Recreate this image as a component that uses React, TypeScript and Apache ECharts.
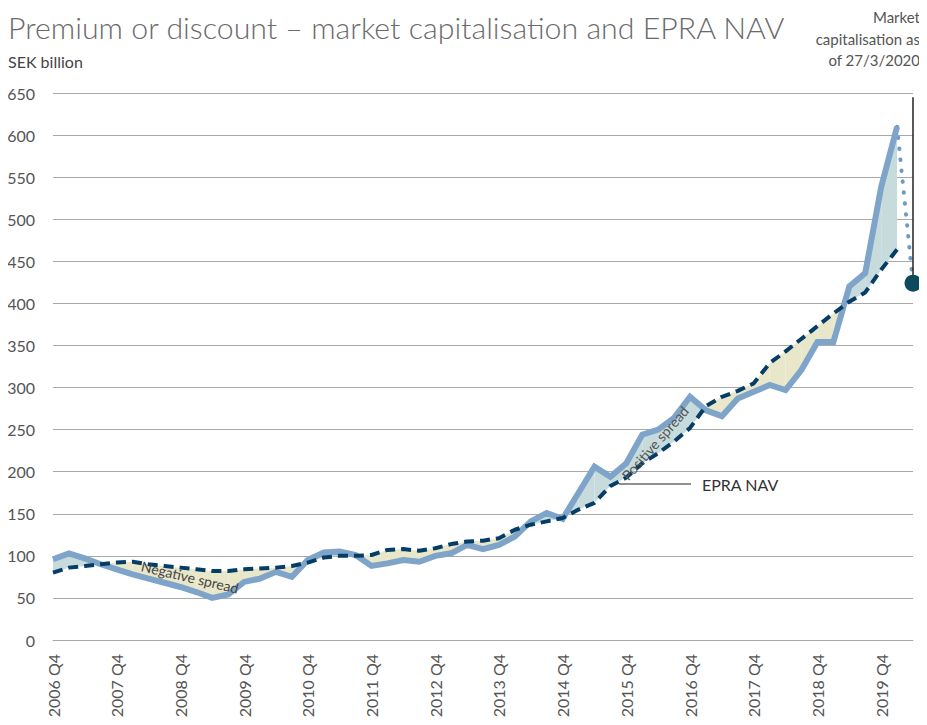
import React, { useEffect, useRef } from "react";
import * as echarts from "echarts";

const categories: string[] = [
  "2006 Q4",
  "2007 Q1", "2007 Q2", "2007 Q3", "2007 Q4",
  "2008 Q1", "2008 Q2", "2008 Q3", "2008 Q4",
  "2009 Q1", "2009 Q2", "2009 Q3", "2009 Q4",
  "2010 Q1", "2010 Q2", "2010 Q3", "2010 Q4",
  "2011 Q1", "2011 Q2", "2011 Q3", "2011 Q4",
  "2012 Q1", "2012 Q2", "2012 Q3", "2012 Q4",
  "2013 Q1", "2013 Q2", "2013 Q3", "2013 Q4",
  "2014 Q1", "2014 Q2", "2014 Q3", "2014 Q4",
  "2015 Q1", "2015 Q2", "2015 Q3", "2015 Q4",
  "2016 Q1", "2016 Q2", "2016 Q3", "2016 Q4",
  "2017 Q1", "2017 Q2", "2017 Q3", "2017 Q4",
  "2018 Q1", "2018 Q2", "2018 Q3", "2018 Q4",
  "2019 Q1", "2019 Q2", "2019 Q3", "2019 Q4",
  "2020 Q1",
  "27/3/2020",
];

const marketCap: number[] = [
  96, 103, 97, 90, 84, 78, 73, 68, 63, 57, 50, 54, 69,
  73, 81, 75, 95, 104, 105, 101, 88, 91, 95, 93, 100,
  103, 113, 108, 113, 123, 141, 151, 144, 175, 206, 194, 210,
  244, 250, 264, 289, 273, 266, 287, 295, 303, 297, 321, 354,
  354, 420, 436, 538, 610,
];

const epraNav: number[] = [
  80, 86, 88, 90, 92, 93, 90, 88, 86, 84, 82, 82, 84,
  85, 86, 88, 92, 98, 100, 100, 101, 107, 108, 106, 109,
  114, 117, 118, 121, 131, 137, 141, 145, 155, 163, 183, 193,
  210, 222, 236, 252, 278, 289, 296, 305, 329, 343, 358, 373,
  388, 402, 413, 440, 464,
];

const marketCapLatest = 424; // as of 27/3/2020
const markerTop = 645;

const yTicks = { min: 0, max: 650, interval: 50 };

const title = "Premium or discount – market capitalisation and EPRA NAV";
const unitLabel = "SEK billion";
const noteLines = ["Market", "capitalisation as", "of 27/3/2020"];

const FONT = "Lato, 'Open Sans', sans-serif";

export default function App() {
  const ref = useRef<HTMLDivElement>(null);

  useEffect(() => {
    if (!ref.current) return;
    const chart = echarts.init(ref.current, undefined, { renderer: "svg" });

    const last = categories.length - 1;
    const lastQ = marketCap.length - 1;

    const segments: number[][] = [];
    for (let i = 0; i < marketCap.length - 1; i++) {
      segments.push([i, marketCap[i], epraNav[i], marketCap[i + 1], epraNav[i + 1]]);
    }

    const POS = "#c7dbdc";
    const NEG = "#e9e7ca";

    const mcSeries: (number | null)[] = categories.map((_, i) => (i <= lastQ ? marketCap[i] : null));
    const navSeries: (number | null)[] = categories.map((_, i) => (i <= lastQ ? epraNav[i] : null));
    const dotted: (number | null)[] = categories.map((_, i) =>
      i === lastQ ? marketCap[lastQ] : i === last ? marketCapLatest : null
    );

    const noteTexts = noteLines.map((line, k) => ({
      type: "text",
      x: 920,
      y: 17 + k * 21.5,
      style: {
        text: line,
        fontSize: 15,
        fill: "#555",
        textAlign: "right",
        textVerticalAlign: "middle",
        fontFamily: FONT,
      },
    }));

    chart.setOption({
      animation: false,
      grid: { left: 53, right: 14, top: 93, bottom: 85, containLabel: false },
      xAxis: {
        type: "category",
        data: categories,
        boundaryGap: false,
        axisLine: { show: true, lineStyle: { color: "#a9a9a9", width: 1 } },
        axisTick: { show: false },
        axisLabel: {
          interval: (i: number) => i % 4 === 0 && i < categories.length - 2,
          rotate: 90,
          margin: 14,
          fontSize: 16,
          color: "#555",
          fontFamily: FONT,
          hideOverlap: false,
        },
        splitLine: { show: false },
      },
      yAxis: {
        type: "value",
        min: yTicks.min,
        max: yTicks.max,
        interval: yTicks.interval,
        axisLine: { show: false },
        axisTick: { show: false },
        axisLabel: { fontSize: 16, color: "#555", fontFamily: FONT, margin: 18 },
        splitLine: { lineStyle: { color: "#a9a9a9", width: 1 } },
      },
      series: [
        {
          type: "custom",
          name: "spread",
          data: segments,
          encode: { x: 0, y: [1, 2, 3, 4] },
          z: 1,
          silent: true,
          renderItem: (params: any, api: any) => {
            const i = api.value(0);
            const a1 = api.value(1);
            const n1 = api.value(2);
            const a2 = api.value(3);
            const n2 = api.value(4);
            const pA = api.coord([i, a1]);
            const pN = api.coord([i, n1]);
            const qA = api.coord([i + 1, a2]);
            const qN = api.coord([i + 1, n2]);
            const d1 = a1 - n1;
            const d2 = a2 - n2;
            const children: any[] = [];
            if (d1 * d2 >= 0) {
              children.push({
                type: "polygon",
                shape: { points: [pA, qA, qN, pN] },
                style: { fill: d1 + d2 >= 0 ? POS : NEG },
              });
            } else {
              const t = d1 / (d1 - d2);
              const ax = pA[0] + (qA[0] - pA[0]) * t;
              const ay = pA[1] + (qA[1] - pA[1]) * t;
              const P = [ax, ay];
              children.push({
                type: "polygon",
                shape: { points: [pA, P, pN] },
                style: { fill: d1 > 0 ? POS : NEG },
              });
              children.push({
                type: "polygon",
                shape: { points: [P, qA, qN] },
                style: { fill: d2 > 0 ? POS : NEG },
              });
            }
            return { type: "group", children };
          },
        },
        {
          type: "line",
          name: "Market capitalisation",
          data: mcSeries,
          showSymbol: false,
          symbol: "none",
          z: 3,
          lineStyle: { color: "#7ea4c9", width: 6, join: "miter" },
        },
        {
          type: "line",
          name: "EPRA NAV",
          data: navSeries,
          showSymbol: false,
          symbol: "none",
          z: 4,
          lineStyle: { color: "#053d66", width: 4, type: [10, 6] },
        },
        {
          type: "line",
          name: "latest",
          data: dotted,
          showSymbol: false,
          symbol: "none",
          z: 2,
          connectNulls: false,
          lineStyle: { color: "#6f9bc2", width: 4, type: [0.5, 10.5], cap: "round" },
        },
        {
          type: "line",
          name: "marker",
          data: [
            [last, markerTop],
            [last, marketCapLatest],
          ],
          showSymbol: false,
          symbol: "none",
          z: 2,
          lineStyle: { color: "#222", width: 1.5 },
        },
        {
          type: "scatter",
          name: "market cap 27/3/2020",
          data: [[last, marketCapLatest]],
          symbol: "circle",
          symbolSize: 17,
          z: 6,
          clip: false,
          itemStyle: { color: "#0c4a5e", opacity: 1 },
        },
      ],
      graphic: [
        {
          type: "text",
          x: 8,
          y: 27,
          style: {
            text: title,
            fontSize: 30.3,
            fill: "#6a6a6a",
            fontFamily: FONT,
            fontWeight: 300,
            textVerticalAlign: "middle",
          },
        },
        {
          type: "text",
          x: 8,
          y: 61,
          style: { text: unitLabel, fontSize: 16, fill: "#444", fontFamily: FONT, textVerticalAlign: "middle" },
        },
        ...noteTexts,
        {
          type: "text",
          x: 190,
          y: 577,
          rotation: -0.23,
          z: 100,
          style: {
            text: "Negative spread",
            fontSize: 14,
            fill: "#444",
            textAlign: "center",
            textVerticalAlign: "middle",
            fontFamily: FONT,
          },
        },
        {
          type: "text",
          x: 655,
          y: 443,
          rotation: 0.85,
          z: 100,
          style: {
            text: "Positive spread",
            fontSize: 14,
            fill: "#555",
            textAlign: "center",
            textVerticalAlign: "middle",
            fontFamily: FONT,
          },
        },
        {
          type: "line",
          z: 100,
          shape: { x1: 619, y1: 484, x2: 691, y2: 484 },
          style: { stroke: "#222", lineWidth: 1.2 },
        },
        {
          type: "text",
          x: 702,
          y: 484,
          z: 100,
          style: {
            text: "EPRA NAV",
            fontSize: 16,
            fill: "#333",
            textVerticalAlign: "middle",
            fontFamily: FONT,
          },
        },
      ],
    });

    return () => chart.dispose();
  }, []);

  return <div ref={ref} style={{ width: 927, height: 725, margin: -8 }} />;
}
